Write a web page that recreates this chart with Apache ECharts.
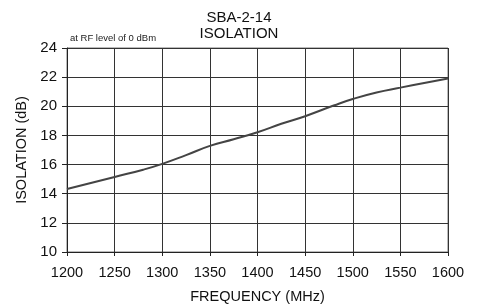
<!DOCTYPE html>
<html>
<head>
<meta charset="utf-8">
<script src="https://cdn.jsdelivr.net/npm/echarts@6/dist/echarts.min.js"></script>
<style>
    html, body { margin: 0; padding: 0; background: #fff; }
    #chart { width: 478px; height: 306px; }
</style>
</head>
<body>
<div id="chart"></div>
<script>
    // frequency (MHz) and isolation (dB)
    const freq = [1200, 1250, 1280, 1300, 1325, 1350, 1375, 1400, 1425, 1450, 1480, 1500, 1525, 1550, 1575, 1600]
    const isolation = [14.32, 15.15, 15.65, 16.05, 16.65, 17.28, 17.74, 18.22, 18.8, 19.32, 20.05, 20.5, 20.95, 21.28, 21.6, 21.9]
    const yTicks = [10, 12, 14, 16, 18, 20, 22, 24]
    const xTicks = [1200, 1250, 1300, 1350, 1400, 1450, 1500, 1550, 1600]

    const font = 'Liberation Sans, Arial, sans-serif'
    let chart = echarts.init(document.getElementById('chart'))
    let options = {
        backgroundColor: '#fff',
        animation: false,
        title: {
            text: 'SBA-2-14\nISOLATION',
            left: 'center',
            top: 5,
            textStyle: {
                color: '#111',
                fontSize: 15,
                fontWeight: 'normal',
                fontFamily: font,
                lineHeight: 16
            }
        },
        graphic: [{
            type: 'text',
            left: 70,
            top: 33,
            style: {
                text: 'at RF level of 0 dBm',
                fontSize: 9.5,
                fontFamily: font,
                fill: '#222'
            }
        }],
        grid: {
            left: 67,
            right: 30,
            top: 48,
            bottom: 54,
            outerBoundsMode: 'none',
            show: true,
            borderColor: '#777',
            borderWidth: 1
        },
        xAxis: {
            type: 'value',
            min: xTicks[0],
            max: xTicks[xTicks.length - 1],
            interval: 50,
            name: 'FREQUENCY (MHz)',
            nameLocation: 'middle',
            nameGap: 37,
            nameTextStyle: { color: '#111', fontSize: 14.5, fontFamily: font },
            axisLine: { lineStyle: { color: '#222' } },
            axisTick: { show: true, length: 4, lineStyle: { color: '#222' } },
            axisLabel: { color: '#111', fontSize: 14.5, fontFamily: font, margin: 13, formatter: v => String(v) },
            splitLine: { lineStyle: { color: '#333', width: 1 } }
        },
        yAxis: {
            type: 'value',
            min: yTicks[0],
            max: yTicks[yTicks.length - 1],
            interval: 2,
            name: 'ISOLATION (dB)',
            nameLocation: 'middle',
            nameGap: 34,
            nameTextStyle: { color: '#111', fontSize: 14.5, fontFamily: font },
            axisLine: { show: true, lineStyle: { color: '#222' } },
            axisTick: { show: true, length: 5, lineStyle: { color: '#222' } },
            axisLabel: { color: '#111', fontSize: 15, fontFamily: font, margin: 10 },
            splitLine: { lineStyle: { color: '#333', width: 1 } }
        },
        series: [
            {
                type: 'line',
                smooth: true,
                symbol: 'none',
                data: freq.map((f, i) => [f, isolation[i]]),
                lineStyle: { color: '#444', width: 2 }
            }
        ]
    }
    chart.setOption(options)
</script>
</body>
</html>
